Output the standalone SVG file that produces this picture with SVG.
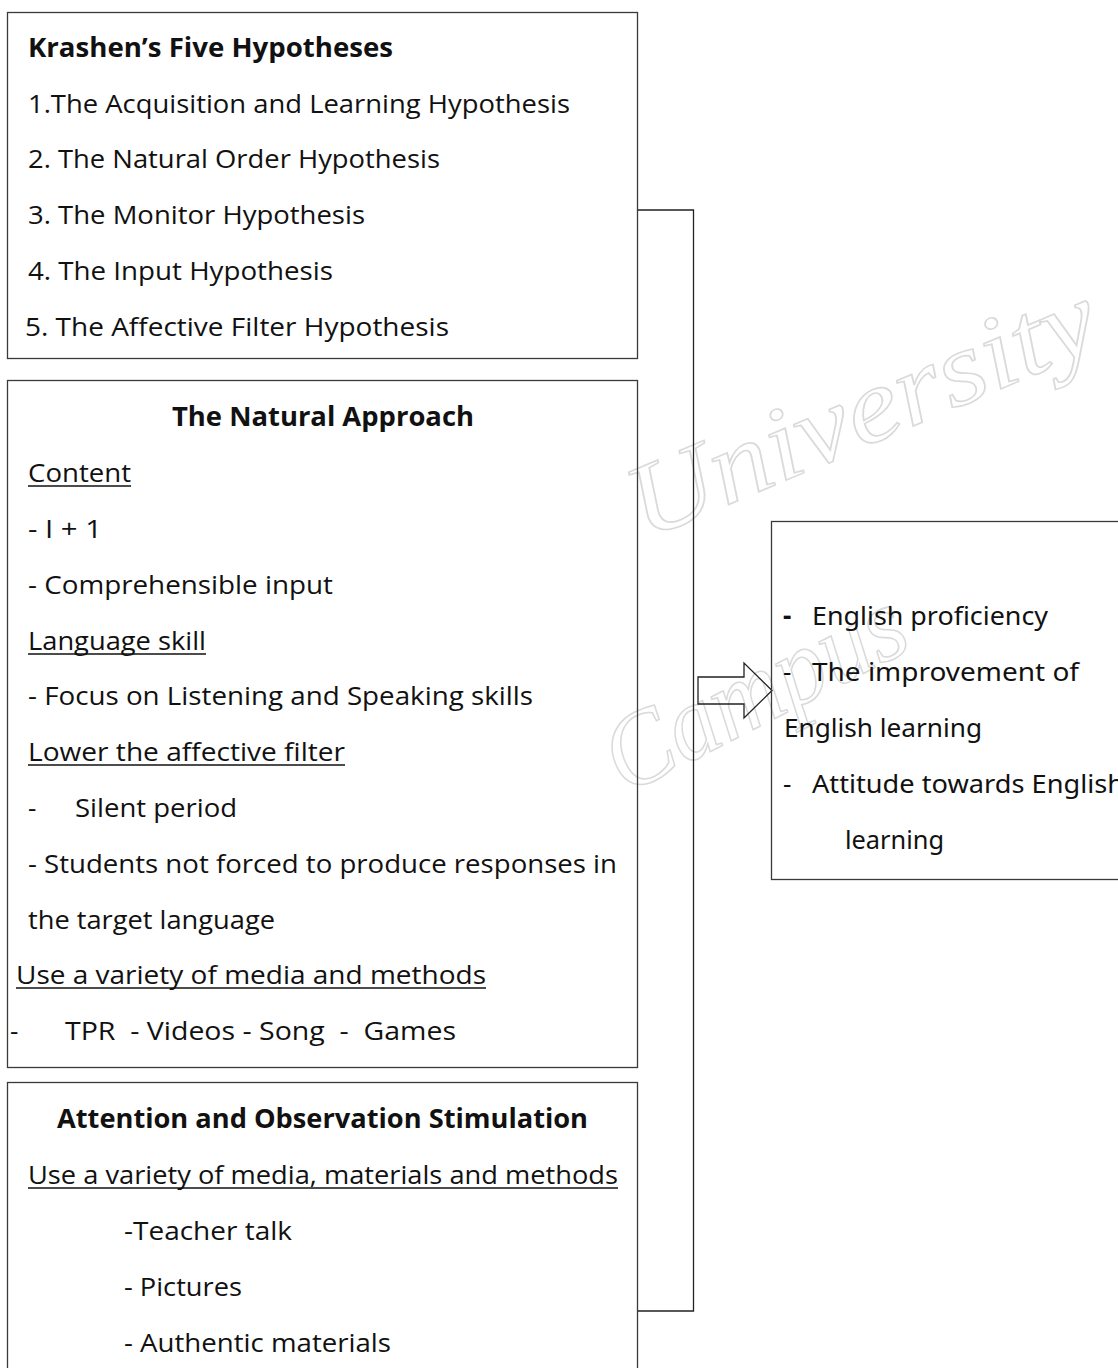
<svg xmlns="http://www.w3.org/2000/svg" width="1118" height="1368" viewBox="0 0 1118 1368">
<defs>
<style>
.box{fill:none;stroke:#3a3a3a;stroke-width:1.3}
.t{font-family:"Open Sans","Noto Sans",sans-serif;font-size:26px;fill:#111}
.b{font-weight:bold}
.r{font-family:"Noto Sans","Open Sans",sans-serif;font-size:26px;fill:#111}
.u{stroke:#111;stroke-width:1.6}
.conn{fill:none;stroke:#222;stroke-width:1.3}
.wm{font-family:"Liberation Serif","DejaVu Serif",serif;font-style:italic;font-size:105px;fill:none;stroke:#dadada;stroke-width:1.6}
</style>
</defs>
<rect width="1118" height="1368" fill="#fff"/>
<g id="watermark">
<text class="wm" x="645" y="540" textLength="500" lengthAdjust="spacingAndGlyphs" transform="rotate(-23 645 540)">University</text>
<text class="wm" x="625" y="795" textLength="325" lengthAdjust="spacingAndGlyphs" transform="rotate(-27 625 795)">Campus</text>
</g>
<g id="connectors">
<polyline class="conn" points="637,210 693.5,210 693.5,1311 637,1311"/>
<polygon class="conn" points="698,677 744,677 744,663 772,690.5 744,718 744,704 698,704"/>
</g>
<g id="krashen">
<rect class="box" x="7.5" y="12.5" width="630" height="346"/>
<text class="t b" x="28" y="57" textLength="365" lengthAdjust="spacingAndGlyphs">Krashen’s Five Hypotheses</text>
<text class="t" x="28" y="113" textLength="542" lengthAdjust="spacingAndGlyphs">1.The Acquisition and Learning Hypothesis</text>
<text class="t" x="28" y="168" textLength="412" lengthAdjust="spacingAndGlyphs">2. The Natural Order Hypothesis</text>
<text class="t" x="28" y="224" textLength="337" lengthAdjust="spacingAndGlyphs">3. The Monitor Hypothesis</text>
<text class="t" x="28" y="280" textLength="305" lengthAdjust="spacingAndGlyphs">4. The Input Hypothesis</text>
<text class="t" x="25" y="336" textLength="424" lengthAdjust="spacingAndGlyphs">5. The Affective Filter Hypothesis</text>
</g>
<g id="natural-approach">
<rect class="box" x="7.5" y="380.5" width="630" height="687"/>
<text class="t b" x="172" y="426" textLength="302" lengthAdjust="spacingAndGlyphs">The Natural Approach</text>
<text class="t" x="28" y="482" textLength="103" lengthAdjust="spacingAndGlyphs">Content</text>
<line class="u" x1="28" y1="486" x2="131" y2="486"/>
<text class="t" x="28" y="538" textLength="74" lengthAdjust="spacingAndGlyphs">- I + 1</text>
<text class="t" x="28" y="594" textLength="305" lengthAdjust="spacingAndGlyphs">- Comprehensible input</text>
<text class="t" x="28" y="650" textLength="178" lengthAdjust="spacingAndGlyphs">Language skill</text>
<line class="u" x1="28" y1="654" x2="206" y2="654"/>
<text class="t" x="28" y="705" textLength="505" lengthAdjust="spacingAndGlyphs">- Focus on Listening and Speaking skills</text>
<text class="t" x="28" y="761" textLength="317" lengthAdjust="spacingAndGlyphs">Lower the affective filter</text>
<line class="u" x1="28" y1="765" x2="345" y2="765"/>
<text class="t" x="28" y="817">-</text>
<text class="t" x="75" y="817" textLength="162" lengthAdjust="spacingAndGlyphs">Silent period</text>
<text class="t" x="28" y="873" textLength="589" lengthAdjust="spacingAndGlyphs">- Students not forced to produce responses in</text>
<text class="t" x="28" y="929" textLength="247" lengthAdjust="spacingAndGlyphs">the target language</text>
<text class="t" x="16" y="984" textLength="470" lengthAdjust="spacingAndGlyphs">Use a variety of media and methods</text>
<line class="u" x1="16" y1="988" x2="486" y2="988"/>
<text class="t" x="10" y="1040">-</text>
<text class="t" x="65" y="1040" textLength="391" lengthAdjust="spacingAndGlyphs" xml:space="preserve">TPR  - Videos - Song  -  Games</text>
</g>
<g id="attention">
<rect class="box" x="7.5" y="1082.5" width="630" height="300"/>
<text class="t b" x="57" y="1128" textLength="531" lengthAdjust="spacingAndGlyphs">Attention and Observation Stimulation</text>
<text class="t" x="28" y="1184" textLength="590" lengthAdjust="spacingAndGlyphs">Use a variety of media, materials and methods</text>
<line class="u" x1="28" y1="1188" x2="618" y2="1188"/>
<text class="t" x="124" y="1240" textLength="168" lengthAdjust="spacingAndGlyphs">-Teacher talk</text>
<text class="t" x="124" y="1296" textLength="118" lengthAdjust="spacingAndGlyphs">- Pictures</text>
<text class="t" x="124" y="1352" textLength="267" lengthAdjust="spacingAndGlyphs">- Authentic materials</text>
</g>
<g id="outcomes">
<rect class="box" x="771.5" y="521.5" width="360" height="358"/>
<text class="r b" x="783" y="625">-</text>
<text class="r" x="812" y="625" textLength="236" lengthAdjust="spacingAndGlyphs">English proficiency</text>
<text class="r" x="783" y="681">-</text>
<text class="r" x="812" y="681" textLength="267" lengthAdjust="spacingAndGlyphs">The improvement of</text>
<text class="r" x="784" y="737" textLength="198" lengthAdjust="spacingAndGlyphs">English learning</text>
<text class="r" x="783" y="793">-</text>
<text class="r" x="812" y="793" textLength="312" lengthAdjust="spacingAndGlyphs">Attitude towards English</text>
<text class="r" x="845" y="849" textLength="99" lengthAdjust="spacingAndGlyphs">learning</text>
</g>
</svg>
